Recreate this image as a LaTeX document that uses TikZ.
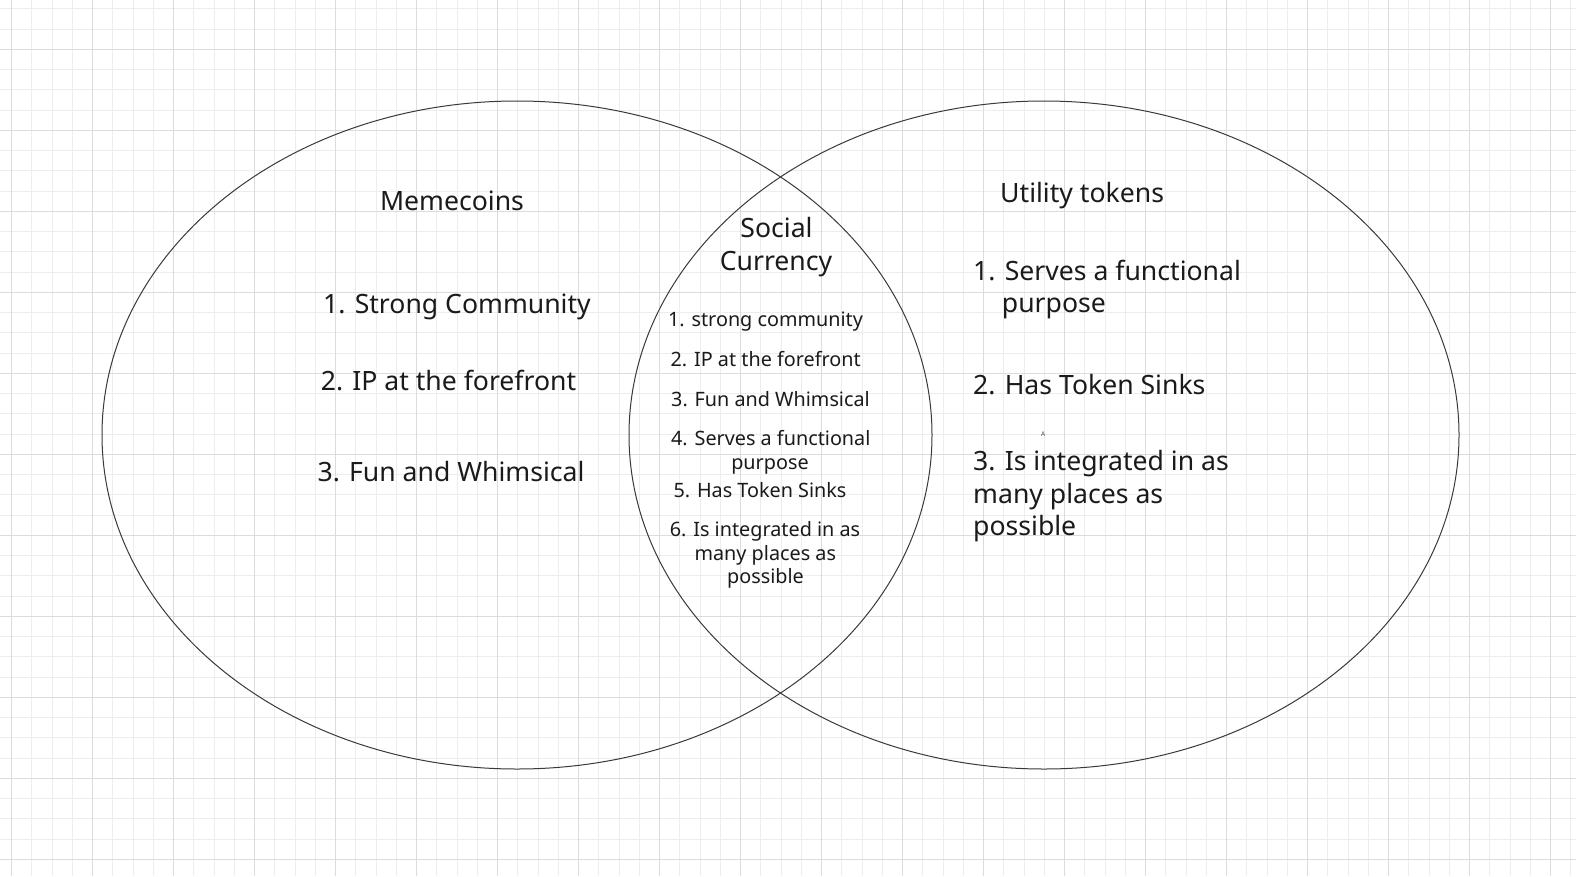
\documentclass[tikz,border=0pt]{standalone}
\usepackage{fontspec}
\newfontfamily\uifont{Noto Sans}
\definecolor{gridminor}{HTML}{EDEDED}
\definecolor{gridmajor}{HTML}{DCDCDC}
\definecolor{ink}{HTML}{1A1A1A}
\definecolor{stroke}{HTML}{3A3A3A}
\tikzset{
  bigtxt/.style={font=\uifont\fontsize{26.6}{31}\selectfont, text=ink, inner sep=0pt, anchor=base},
  bigleft/.style={bigtxt, anchor=base west},
  smalltxt/.style={font=\uifont\fontsize{19.8}{23}\selectfont, text=ink, inner sep=0pt, anchor=base},
  vennset/.style={draw=stroke, line width=1pt},
}
\begin{document}
\begin{tikzpicture}[x=1pt,y=-1pt]
\useasboundingbox (0,0) rectangle (1576,876);
\fill[white] (0,0) rectangle (1576,876);
% grid
\foreach \k in {-1,...,77} {
  \draw[gridminor, line width=1pt] ({11.7+20.25*\k},0) -- ({11.7+20.25*\k},876);
}
\foreach \k in {-2,...,40} {
  \draw[gridminor, line width=1pt] (0,{49.3+20.25*\k}) -- (1576,{49.3+20.25*\k});
}
\foreach \k in {0,...,19} {
  \draw[gridmajor, line width=1pt] ({11.7+81*\k},0) -- ({11.7+81*\k},876);
}
\foreach \k in {-1,...,10} {
  \draw[gridmajor, line width=1pt] (0,{49.3+81*\k}) -- (1576,{49.3+81*\k});
}
% sets
\draw[vennset] (517,435) ellipse [x radius=415, y radius=334];
\draw[vennset] (1044,435) ellipse [x radius=415, y radius=334];
% left set
\node[bigtxt] (memetitle) at (452,210.7) {Memecoins};
\node[bigtxt] (meme1) at (457,313.3) {1. Strong Community};
\node[bigtxt] (meme2) at (448.5,390.7) {2. IP at the forefront};
\node[bigtxt] (meme3) at (451,481) {3. Fun and Whimsical};
% right set
\node[bigleft] (utiltitle) at (1000,202.3) {Utility tokens};
\node[bigleft] (util1) at (973,280) {1. Serves a functional};
\node[bigleft] (util1b) at (1001.7,312) {purpose};
\node[bigleft] (util2) at (973,394.3) {2. Has Token Sinks};
\node[bigleft] (util3) at (973,470) {3. Is integrated in as};
\node[bigleft] (util3b) at (973,503.3) {many places as};
\node[bigleft] (util3c) at (973,535) {possible};
\node[font=\uifont\fontsize{6.5}{7}\selectfont, text=ink!80, inner sep=0pt, anchor=base] (placeholder) at (1043.3,436) {A};
% intersection
\node[bigtxt] (soctitle1) at (776.5,237.3) {Social};
\node[bigtxt] (soctitle2) at (776,270) {Currency};
\node[smalltxt] (soc1) at (765.5,326) {1. strong community};
\node[smalltxt] (soc2) at (765.7,366) {2. IP at the forefront};
\node[smalltxt] (soc3) at (770.5,406.7) {3. Fun and Whimsical};
\node[smalltxt] (soc4) at (770.8,445) {4. Serves a functional};
\node[smalltxt] (soc4b) at (770,469.5) {purpose};
\node[smalltxt] (soc5) at (760,497.7) {5. Has Token Sinks};
\node[smalltxt] (soc6) at (765,536) {6. Is integrated in as};
\node[smalltxt] (soc6b) at (765.3,560) {many places as};
\node[smalltxt] (soc6c) at (765.5,583.3) {possible};
\end{tikzpicture}
\end{document}
